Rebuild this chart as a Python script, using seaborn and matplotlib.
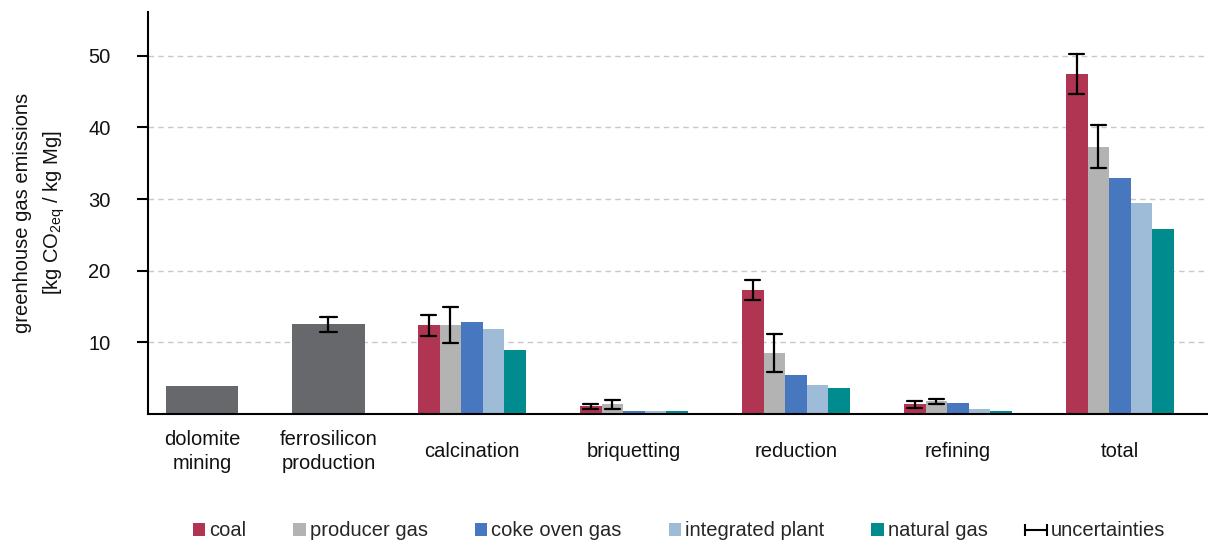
import numpy as np
import pandas as pd
import seaborn as sns
import matplotlib
matplotlib.use("Agg")
import matplotlib.pyplot as plt
from matplotlib.patches import Patch, Rectangle
from matplotlib.lines import Line2D
from matplotlib.legend_handler import HandlerPatch, HandlerLine2D

# ---- data -------------------------------------------------------------
single_stages = ["dolomite\nmining", "ferrosilicon\nproduction"]
single_values = [3.9, 12.5]
single_uncert = [np.nan, 1.0]

fuel_stages = ["calcination", "briquetting", "reduction", "refining", "total"]
fuels = ["coal", "producer gas", "coke oven gas", "integrated plant", "natural gas"]

coal = [12.4, 1.05, 17.3, 1.35, 47.5]
producer_gas = [12.4, 1.35, 8.5, 1.75, 37.3]
coke_oven_gas = [12.9, 0.35, 5.4, 1.6, 32.9]
integrated_plant = [11.8, 0.35, 4.0, 0.65, 29.4]
natural_gas = [8.9, 0.35, 3.6, 0.4, 25.8]

coal_uncert = [1.45, 0.4, 1.4, 0.45, 2.8]
producer_gas_uncert = [2.5, 0.6, 2.6, 0.3, 3.0]

y_ticks = [10, 20, 30, 40, 50]

# ---- layout -----------------------------------------------------------
single_pos = [0.333, 1.114]
fuel_pos = [2, 3, 4, 5, 6]
single_bar_width = 0.447
group_width = 0.667

colors = {
    "coal": "#B03552",
    "producer gas": "#B3B3B3",
    "coke oven gas": "#4677BF",
    "integrated plant": "#9EBBD7",
    "natural gas": "#008B8F",
}
single_color = "#67686C"


def rows_with_spread(pos, value, err, extra):
    """Two rows at value +/- err (their mean is the value and their standard
    error is err); a single row when there is no uncertainty."""
    if err is None or np.isnan(err):
        return [dict(pos=pos, value=value, **extra)]
    return [dict(pos=pos, value=value - err, **extra),
            dict(pos=pos, value=value + err, **extra)]


single_rows = []
for p, v, e in zip(single_pos, single_values, single_uncert):
    single_rows += rows_with_spread(p, v, e, {})
single_df = pd.DataFrame(single_rows)

fuel_values = [coal, producer_gas, coke_oven_gas, integrated_plant, natural_gas]
fuel_uncert = [coal_uncert, producer_gas_uncert, None, None, None]
fuel_rows = []
for f, vals, errs in zip(fuels, fuel_values, fuel_uncert):
    for i, (p, v) in enumerate(zip(fuel_pos, vals)):
        e = errs[i] if errs is not None else np.nan
        fuel_rows += rows_with_spread(p, v, e, {"fuel": f})
fuel_df = pd.DataFrame(fuel_rows)

# ---- style ------------------------------------------------------------
sns.set_theme(style="white")
plt.rcParams["font.family"] = ["Liberation Sans", "DejaVu Sans"]
plt.rcParams["mathtext.fontset"] = "custom"
plt.rcParams["mathtext.rm"] = "Liberation Sans"
plt.rcParams["mathtext.it"] = "Liberation Sans:italic"
FS = 14.5
TXT = "#111111"

fig = plt.figure(figsize=(12.08, 5.43), dpi=100)
ax = fig.add_axes([148 / 1208, 1 - 414 / 543, 1 - 148 / 1208, (414 - 12) / 543])

err_kws = {"color": "black", "linewidth": 1.6}

sns.barplot(data=single_df, x="pos", y="value", native_scale=True,
            color=single_color, saturation=1,
            width=single_bar_width / np.diff(single_pos).min(),
            errorbar=("se", 1), capsize=0.14, err_kws=err_kws,
            linewidth=0, ax=ax)

sns.barplot(data=fuel_df, x="pos", y="value", hue="fuel", hue_order=fuels,
            native_scale=True, palette=colors, saturation=1,
            width=group_width, gap=0, dodge=True,
            errorbar=("se", 1), capsize=0.46, err_kws=err_kws,
            linewidth=0, legend=False, ax=ax)

# ---- axes -------------------------------------------------------------
ax.set_xlim(0, 6.543)
ax.set_ylim(0, 56.1)
ax.set_xticks(single_pos + fuel_pos)
ax.set_xticklabels(single_stages + fuel_stages, fontsize=FS, color=TXT)
for lab in ax.get_xticklabels():
    lab.set_verticalalignment("center")
    lab.set_linespacing(1.35)
ax.tick_params(axis="x", length=0, pad=27)

ax.set_yticks(y_ticks)
ax.set_yticklabels([str(t) for t in y_ticks], fontsize=FS, color=TXT)
ax.tick_params(axis="y", direction="out", length=8, width=1.5,
               color="black", pad=19, left=True)

ax.set_xlabel("")
ax.set_ylabel("greenhouse gas emissions\n[kg CO$_\\mathregular{2eq}$ / kg Mg]",
              fontsize=FS, color=TXT, labelpad=15, linespacing=1.55)

ax.yaxis.grid(True, linestyle=(0, (4, 3)), color="#C8C8C8", linewidth=1)
ax.xaxis.grid(False)
ax.set_axisbelow(True)
for side in ("top", "right"):
    ax.spines[side].set_visible(False)
for side in ("left", "bottom"):
    ax.spines[side].set_color("black")
    ax.spines[side].set_linewidth(1.5)


# ---- legend -----------------------------------------------------------
def square_patch(legend, orig_handle, xdescent, ydescent, width, height, fontsize):
    return Rectangle((-xdescent + width - height, -ydescent), height, height)


handles = [Patch(facecolor=colors[f], edgecolor="none", label=f) for f in fuels]
unc = Line2D([0], [0], color="black", linewidth=1.5, marker="|",
             markersize=8, markeredgewidth=1.5, label="uncertainties")
handles.append(unc)
handler_map = {Patch: HandlerPatch(patch_func=square_patch),
               Line2D: HandlerLine2D(numpoints=2, marker_pad=0)}

fig.legend(handles=handles, handler_map=handler_map, loc="center",
           bbox_to_anchor=((148 / 1208 + 1) / 2 - 0.003, 1 - 531 / 543),
           ncol=6, frameon=False, fontsize=FS,
           handlelength=1.1, handleheight=0.58, handletextpad=0.2,
           columnspacing=1.85)

fig.savefig("out.png", dpi=100)
